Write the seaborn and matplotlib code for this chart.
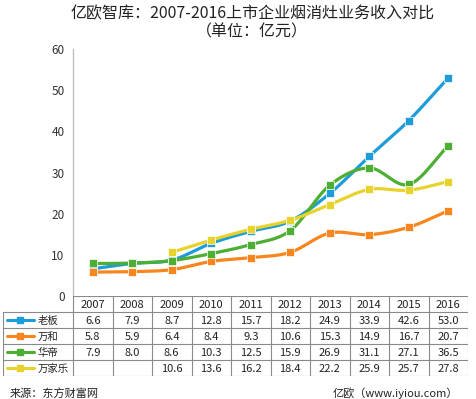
import numpy as np
import seaborn as sns
import matplotlib.pyplot as plt
from matplotlib.lines import Line2D

years = ["2007", "2008", "2009", "2010", "2011", "2012", "2013", "2014", "2015", "2016"]
laoban = [6.6, 7.9, 8.7, 12.8, 15.7, 18.2, 24.9, 33.9, 42.6, 53.0]
wanhe = [5.8, 5.9, 6.4, 8.4, 9.3, 10.6, 15.3, 14.9, 16.7, 20.7]
huadi = [7.9, 8.0, 8.6, 10.3, 12.5, 15.9, 26.9, 31.1, 27.1, 36.5]
wanjiale = [None, None, 10.6, 13.6, 16.2, 18.4, 22.2, 25.9, 25.7, 27.8]

names = ["老板", "万和", "华帝", "万家乐"]
colors = ["#1c9dd9", "#f7861f", "#4cae33", "#e8d22c"]
series = [laoban, wanhe, huadi, wanjiale]

sns.set_style("white")
plt.rcParams['font.family'] = ['Noto Sans CJK SC', 'DejaVu Sans']

W, H = 476, 399
fig = plt.figure(figsize=(W / 100, H / 100), dpi=100)

# main plot area in pixel coords
x0, x1, ytop, ybot = 73, 468, 49, 296
ax = fig.add_axes([x0 / W, 1 - ybot / H, (x1 - x0) / W, (ybot - ytop) / H])


def smooth(xs, ys, n=20):
    # cubic hermite curve through the points (drawing only)
    xs = np.asarray(xs, float)
    ys = np.asarray(ys, float)
    m = np.gradient(ys, xs)
    px, py = [], []
    for i in range(len(xs) - 1):
        t = np.linspace(0, 1, n)
        h = xs[i + 1] - xs[i]
        h00 = 2 * t**3 - 3 * t**2 + 1
        h10 = t**3 - 2 * t**2 + t
        h01 = -2 * t**3 + 3 * t**2
        h11 = t**3 - t**2
        px.append(xs[i] + t * h)
        py.append(h00 * ys[i] + h10 * h * m[i] + h01 * ys[i + 1] + h11 * h * m[i + 1])
    return np.concatenate(px), np.concatenate(py)


for name, vals, c in zip(names, series, colors):
    xs = [i for i, v in enumerate(vals) if v is not None]
    ys = [v for v in vals if v is not None]
    sx, sy = smooth(xs, ys)
    sns.lineplot(x=sx, y=sy, ax=ax, color=c, lw=2.3, sort=False, zorder=2)
    sns.scatterplot(x=xs, y=ys, ax=ax, color=c, marker="s", s=40,
                    edgecolor="white", linewidth=0.5, zorder=3)

ax.set_xlim(-0.5, 9.5)
ax.set_ylim(0, 60)
ax.set_yticks(range(0, 61, 10))
ax.set_xticks([])
for s in ["top", "right", "bottom"]:
    ax.spines[s].set_visible(False)
ax.spines["left"].set_color("#bbbbbb")
ax.spines["left"].set_linewidth(0.9)
ax.tick_params(axis="y", length=0, pad=6, labelsize=8.5, labelcolor="#333333")

# title
fig.text(0.53, 1 - 14 / H, "亿欧智库：2007-2016上市企业烟消灶业务收入对比",
         ha="center", va="center", fontsize=11.5, color="#222222")
fig.text(0.53, 1 - 32 / H, "（单位：亿元）", ha="center", va="center",
         fontsize=11.5, color="#222222")

# data table below the plot
tl, tb = 3, 376
ta = fig.add_axes([tl / W, 1 - tb / H, (x1 - tl) / W, (tb - ybot) / H])
ppu = (x1 - x0) / 10.0
left = -0.5 - (x0 - tl) / ppu
ta.set_xlim(left, 9.5)
ta.set_ylim(5, 0)
ta.axis("off")
gc, glw = "#8a8a8a", 0.8
ta.plot([-0.5, 9.5], [0, 0], color=gc, lw=glw)
for r in range(1, 6):
    ta.plot([left, 9.5], [r, r], color=gc, lw=glw)
for k in range(11):
    ta.plot([-0.5 + k, -0.5 + k], [0, 5], color=gc, lw=glw)
ta.plot([left + 0.01, left + 0.01], [1, 5], color=gc, lw=glw)

for j, y in enumerate(years):
    ta.text(j, 0.55, y, ha="center", va="center", fontsize=8, color="#222222")


def px2x(p):
    return -0.5 + (p - x0) / ppu


for r, (name, vals, c) in enumerate(zip(names, series, colors)):
    yy = r + 1.5
    ta.add_line(Line2D([px2x(7), px2x(34)], [yy, yy], color=c, lw=2.2))
    ta.add_line(Line2D([px2x(20)], [yy], color=c, marker="s", markersize=5, lw=0))
    ta.text(px2x(38), yy + 0.05, name, ha="left", va="center", fontsize=7.5, color="#222222")
    for j, v in enumerate(vals):
        if v is not None:
            ta.text(j, yy + 0.05, f"{v:.1f}", ha="center", va="center",
                    fontsize=8, color="#222222")

fig.text(10 / W, 1 - 393 / H, "来源：东方财富网", ha="left", va="center",
         fontsize=8, color="#222222")
fig.text(458 / W, 1 - 393 / H, "亿欧（www.iyiou.com）", ha="right", va="center",
         fontsize=8, color="#222222")

fig.savefig("out.png", dpi=100)
